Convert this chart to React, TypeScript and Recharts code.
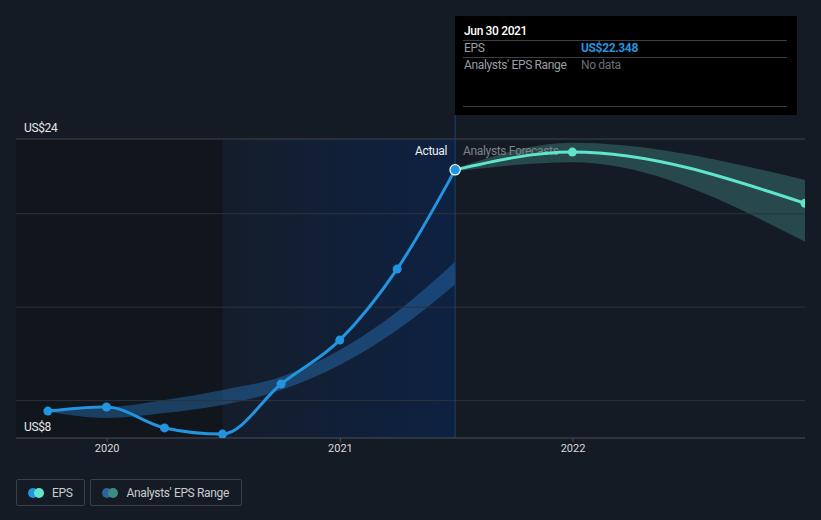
import React from 'react';
import {
  ComposedChart,
  Line,
  Area,
  XAxis,
  YAxis,
  ReferenceArea,
  ReferenceLine,
  ReferenceDot,
  Legend,
} from 'recharts';

// ---- Data ----
const actualDates = ['2019-09-30', '2019-12-31', '2020-03-31', '2020-06-30', '2020-09-30', '2020-12-31', '2021-03-31', '2021-06-30'];
const epsActual = [9.44, 9.66, 8.54, 8.21, 10.89, 13.24, 17.04, 22.348];
const pastRangeLow = [9.4, 9.07, 9.34, 9.77, 10.57, 11.91, 13.78, 16.22];
const pastRangeHigh = [9.48, 9.61, 10.03, 10.57, 11.28, 12.71, 14.76, 17.43];

const forecastDates = ['2021-06-30', '2021-12-31', '2022-12-31'];
const epsForecast = [22.348, 23.3, 20.56];
const futureRangeLow = [22.28, 22.75, 18.5];
const futureRangeHigh = [22.42, 23.8, 21.8];

const yearTicks = ['2020-01-01', '2021-01-01', '2022-01-01'];
const gridValues = [10, 15, 20];
const yMin = 8;
const yMax = 24;

const domainStart = '2019-08-11';
const domainEnd = '2022-12-31';
const pastYearStart = '2020-06-30';
const todayDate = '2021-06-30';
const yTop = 25.284;

const tooltipTitle = 'Jun 30 2021';
const tooltipEps = 'US$22.348';

// ---- Helpers ----
const ts = (d: string) => Date.parse(d + 'T00:00:00Z');

type Row = {
  t: number;
  eps?: number;
  epsF?: number;
  past?: [number, number];
  future?: [number, number];
};

const rowMap = new Map<number, Row>();
const getRow = (d: string) => {
  const t = ts(d);
  if (!rowMap.has(t)) rowMap.set(t, { t });
  return rowMap.get(t)!;
};
actualDates.forEach((d, i) => {
  const r = getRow(d);
  r.eps = epsActual[i];
  r.past = [pastRangeLow[i], pastRangeHigh[i]];
});
forecastDates.forEach((d, i) => {
  const r = getRow(d);
  r.epsF = epsForecast[i];
  r.future = [futureRangeLow[i], futureRangeHigh[i]];
});
const data = Array.from(rowMap.values()).sort((a, b) => a.t - b.t);

const FONT = 'Roboto';
const LS = '-0.35px';
const BLUE = '#2394df';
const TEAL = '#5fe5cc';
const BG = '#151b24';

const YLabel = (text: string) => (props: any) => {
  const vb = props.viewBox || {};
  return (
    <text x={(vb.x ?? 0) + 8} y={(vb.y ?? 0) - 7} fill="#e6e6e6" fontSize={12} fontFamily={FONT} style={{ letterSpacing: LS }}>
      {text}
    </text>
  );
};

const DividerLabels = (props: any) => {
  const vb = props.viewBox || {};
  const x = vb.x ?? 0;
  const y = (vb.y ?? 0) + 40;
  return (
    <g style={{ letterSpacing: LS }}>
      <text x={x - 8} y={y} textAnchor="end" fill="#f0f0f0" fontSize={12} fontFamily={FONT}>
        Actual
      </text>
      <text x={x + 8} y={y} textAnchor="start" fill="#7d8289" fontSize={12} fontFamily={FONT}>
        Analysts Forecasts
      </text>
    </g>
  );
};

const LegendContent = () => {
  const box: React.CSSProperties = {
    display: 'flex',
    alignItems: 'center',
    height: 27,
    border: '1px solid #3a404a',
    borderRadius: 2,
    padding: '0 12px 0 11px',
    marginRight: 5,
    boxSizing: 'border-box',
  };
  const dot = (c: string, ml: number): React.CSSProperties => ({
    width: 10,
    height: 10,
    borderRadius: 5,
    background: c,
    marginLeft: ml,
    display: 'inline-block',
  });
  return (
    <div style={{ display: 'flex', fontFamily: FONT, fontSize: 12, color: '#c8cbd0', letterSpacing: LS }}>
      <div style={box}>
        <span style={dot(BLUE, 0)} />
        <span style={dot(TEAL, -4)} />
        <span style={{ marginLeft: 8 }}>EPS</span>
      </div>
      <div style={box}>
        <span style={dot('#2a6499', 0)} />
        <span style={dot('#3d8a80', -4)} />
        <span style={{ marginLeft: 8 }}>Analysts' EPS Range</span>
      </div>
    </div>
  );
};

export default function App() {
  return (
    <div
      style={{
        position: 'absolute',
        left: 0,
        top: 0,
        width: 821,
        height: 520,
        background: BG,
        fontFamily: FONT,
        overflow: 'hidden',
      }}
    >
      <ComposedChart
        width={821}
        height={520}
        data={data}
        margin={{ top: 115, right: 16, bottom: 52, left: 16 }}
      >
        <defs>
          <linearGradient id="pastYearGrad" x1="0" y1="0" x2="1" y2="0">
            <stop offset="0%" stopColor="#0d2a5c" stopOpacity={0.12} />
            <stop offset="100%" stopColor="#082555" stopOpacity={0.6} />
          </linearGradient>
        </defs>
        <ReferenceArea
          x1={ts(domainStart)}
          x2={ts(pastYearStart)}
          y1={yMin}
          y2={yMax}
          fill="#0c0e12"
          fillOpacity={0.35}
          stroke="none"
          ifOverflow="hidden"
        />
        <ReferenceArea
          x1={ts(pastYearStart)}
          x2={ts(todayDate)}
          y1={yMin}
          y2={yMax}
          fill="url(#pastYearGrad)"
          fillOpacity={1}
          stroke="none"
          ifOverflow="hidden"
        />
        {gridValues.map((v) => (
          <ReferenceLine key={v} y={v} stroke="#2c323c" strokeWidth={1} />
        ))}
        <ReferenceLine y={yMax} stroke="#3e444e" strokeWidth={1} label={YLabel('US$' + yMax)} />
        <ReferenceLine y={yMin} stroke="none" label={YLabel('US$' + yMin)} />
        <XAxis
          dataKey="t"
          type="number"
          scale="time"
          domain={[ts(domainStart), ts(domainEnd)]}
          ticks={yearTicks.map(ts)}
          tickFormatter={(v: number) => String(new Date(v).getUTCFullYear())}
          height={30}
          axisLine={{ stroke: '#4a505a' }}
          tickLine={{ stroke: '#4a505a' }}
          tickSize={4}
          tick={{ fill: '#d8d8d8', fontSize: 11, fontFamily: FONT }}
          allowDataOverflow
        />
        <YAxis type="number" domain={[yMin, yTop]} hide allowDataOverflow />
        <ReferenceLine
          x={ts(todayDate)}
          stroke="#21406f"
          strokeWidth={1}
          label={<DividerLabels />}
        />
        <Area
          dataKey="past"
          type="monotone"
          fill="#2a7cc7"
          fillOpacity={0.4}
          stroke="none"
          isAnimationActive={false}
          connectNulls
          activeDot={false}
        />
        <Area
          dataKey="future"
          type="monotone"
          fill="#5ac8b5"
          fillOpacity={0.27}
          stroke="none"
          isAnimationActive={false}
          connectNulls
          activeDot={false}
        />
        <Line
          dataKey="epsF"
          type="monotone"
          stroke={TEAL}
          strokeWidth={3}
          dot={{ r: 4.5, fill: TEAL, stroke: 'none' }}
          activeDot={false}
          isAnimationActive={false}
          connectNulls
        />
        <Line
          dataKey="eps"
          type="monotone"
          stroke={BLUE}
          strokeWidth={3}
          dot={{ r: 4.5, fill: BLUE, stroke: 'none' }}
          activeDot={false}
          isAnimationActive={false}
          connectNulls
        />
        <ReferenceDot
          x={ts(todayDate)}
          y={epsActual[epsActual.length - 1]}
          r={5}
          fill={BLUE}
          stroke="#ffffff"
          strokeWidth={1.5}
        />
        <Legend
          layout="horizontal"
          verticalAlign="middle"
          align="center"
          content={<LegendContent />}
          wrapperStyle={{ left: 16, top: 479, width: 'auto', height: 'auto' }}
        />
      </ComposedChart>
      <div
        style={{
          position: 'absolute',
          left: 455,
          top: 16,
          width: 342,
          height: 99,
          background: '#000000',
          fontSize: 12,
          color: '#9a9ea4',
          letterSpacing: LS,
        }}
      >
        <div style={{ position: 'absolute', left: 9, top: 8, color: '#ffffff', fontWeight: 500 }}>{tooltipTitle}</div>
        <div style={{ position: 'absolute', left: 8, right: 10, top: 24, borderTop: '1px solid #3c3f44' }} />
        <div style={{ position: 'absolute', left: 9, top: 25 }}>EPS</div>
        <div style={{ position: 'absolute', left: 126, top: 25, color: BLUE, fontWeight: 700 }}>{tooltipEps}</div>
        <div style={{ position: 'absolute', left: 8, right: 10, top: 41, borderTop: '1px solid #3c3f44' }} />
        <div style={{ position: 'absolute', left: 9, top: 42 }}>Analysts' EPS Range</div>
        <div style={{ position: 'absolute', left: 126, top: 42, color: '#6a6e74' }}>No data</div>
        <div style={{ position: 'absolute', left: 8, right: 10, top: 90, borderTop: '1px solid #3c3f44' }} />
      </div>
    </div>
  );
}
